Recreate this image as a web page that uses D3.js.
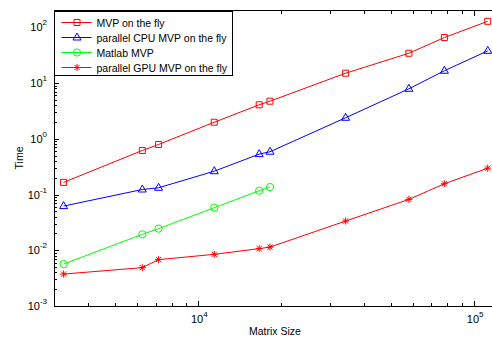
<!DOCTYPE html>
<html>
<head>
<meta charset="utf-8">
<script src="https://cdn.jsdelivr.net/npm/d3@7"></script>
<style>
body { margin: 0; background: #fff; }
svg { display: block; font-family: "Liberation Sans", Arial, sans-serif; }
.series { fill: none; stroke-width: 1; }
.mark { fill: none; stroke-width: 1; }
.frame { fill: none; stroke: #000; stroke-width: 1; shape-rendering: crispEdges; }
.tick { stroke: #000; stroke-width: 1; shape-rendering: crispEdges; }
.label { font-size: 11px; fill: #000; }
.small { font-size: 10.5px; fill: #000; }
</style>
</head>
<body>
<svg width="492" height="338"></svg>
<script>
// matrix sizes (x) and timings (y)
const sizes = [3250, 6270, 7180, 11430, 16630, 18200, 34200, 58000, 78000, 112000]
const mvpFly = [0.165, 0.617, 0.79, 1.98, 4.07, 4.72, 15.0, 34.2, 65.4, 128]
const cpuFly = [0.062, 0.123, 0.132, 0.262, 0.53, 0.585, 2.38, 7.87, 16.6, 37.8]
const matlabMvp = [0.00566, 0.0193, 0.0244, 0.058, 0.117, 0.136]
const gpuFly = [0.00374, 0.00488, 0.00679, 0.00845, 0.0107, 0.0114, 0.0334, 0.0817, 0.156, 0.297]

const seriesNames = ["MVP on the fly", "parallel CPU MVP on the fly", "Matlab MVP", "parallel GPU MVP on the fly"]
const xTickExp = [4, 5]
const yTickExp = [-3, -2, -1, 0, 1, 2]

const svg = d3.select("svg")

//plot box
const boxL = 54, boxR = 496, boxT = 10.5, boxB = 306

//scales
const x = d3.scaleLog()
	.domain([3000, 120000])
	.range([boxL, boxR])

const y = d3.scaleLog()
	.domain([0.001, 200])
	.range([boxB, boxT])

//minor + major ticks
const xMinor = []
for (let e = 3; e <= 5; e++) for (let m = 1; m <= 9; m++) {
	const v = m * Math.pow(10, e)
	if (v >= 3000 && v <= 120000) xMinor.push({v: v, major: m == 1})
}
const yMinor = []
for (let e = -3; e <= 2; e++) for (let m = 1; m <= 9; m++) {
	const v = m * Math.pow(10, e)
	if (v >= 0.001 && v <= 200) yMinor.push({v: v, major: m == 1})
}

const ticks = svg.append("g")

ticks.selectAll("line.xb")
	.data(xMinor)
	.enter()
	.append("line")
	.attr("class", "tick")
	.attr("x1", d => Math.round(x(d.v)) + 0.5)
	.attr("x2", d => Math.round(x(d.v)) + 0.5)
	.attr("y1", boxB)
	.attr("y2", d => boxB - (d.major ? 5 : 3))

ticks.selectAll("line.xt")
	.data(xMinor)
	.enter()
	.append("line")
	.attr("class", "tick")
	.attr("x1", d => Math.round(x(d.v)) + 0.5)
	.attr("x2", d => Math.round(x(d.v)) + 0.5)
	.attr("y1", boxT)
	.attr("y2", d => boxT + (d.major ? 5 : 3))

ticks.selectAll("line.yl")
	.data(yMinor)
	.enter()
	.append("line")
	.attr("class", "tick")
	.attr("y1", d => Math.round(y(d.v)) + 0.5)
	.attr("y2", d => Math.round(y(d.v)) + 0.5)
	.attr("x1", boxL)
	.attr("x2", d => boxL + (d.major ? 5 : 3))

//frame
svg.append("rect")
	.attr("class", "frame")
	.attr("x", boxL + 0.5)
	.attr("y", boxT)
	.attr("width", boxR - boxL)
	.attr("height", boxB - boxT)

//tick labels with superscripts
const xl = svg.selectAll("text.xl")
	.data(xTickExp)
	.enter()
	.append("text")
	.attr("class", "label")
	.attr("x", d => x(Math.pow(10, d)) + 1)
	.attr("y", 322.5)
	.attr("text-anchor", "middle")
xl.append("tspan").text("10")
xl.append("tspan").attr("dy", -6).style("font-size", "8px").text(d => d)

const yl = svg.selectAll("text.yl")
	.data(yTickExp)
	.enter()
	.append("text")
	.attr("class", "label")
	.attr("x", 47)
	.attr("y", d => y(Math.pow(10, d)) + 4)
	.attr("text-anchor", "end")
yl.append("tspan").text("10")
yl.append("tspan").attr("dy", -6).style("font-size", "8px").text(d => d)

//axis titles
svg.append("text")
	.attr("class", "small")
	.attr("x", 275)
	.attr("y", 334.5)
	.attr("text-anchor", "middle")
	.text("Matrix Size")

svg.append("text")
	.attr("class", "small")
	.attr("transform", "translate(23,158) rotate(-90)")
	.attr("text-anchor", "middle")
	.text("Time")

//marker shapes
const markerPath = {
	square: "M-3,-3H3V3H-3Z",
	triangle: "M0,-4.5L4,2.5H-4Z",
	circle: d3.symbol(d3.symbolCircle, 42)(),
	star: "M-3.5,0H3.5M0,-3.5V3.5M-2.6,-2.6L2.6,2.6M-2.6,2.6L2.6,-2.6"
}

const series = [
	{name: seriesNames[0], values: mvpFly, color: "#ff0000", marker: "square"},
	{name: seriesNames[1], values: cpuFly, color: "#0000ff", marker: "triangle"},
	{name: seriesNames[2], values: matlabMvp, color: "#00ff00", marker: "circle"},
	{name: seriesNames[3], values: gpuFly, color: "#ff0000", marker: "star"}
]

const line = d3.line()
	.x(d => x(d[0]))
	.y(d => y(d[1]))

const plot = svg.append("g")

series.forEach(s => {
	const pts = s.values.map((v, i) => [sizes[i], v])
	plot.append("path")
		.datum(pts)
		.attr("class", "series")
		.attr("stroke", s.color)
		.attr("d", line)
	plot.selectAll(null)
		.data(pts)
		.enter()
		.append("path")
		.attr("class", "mark")
		.attr("stroke", s.color)
		.attr("transform", d => `translate(${x(d[0])},${y(d[1])})`)
		.attr("d", markerPath[s.marker])
})

//legend
const legend = svg.append("g")

legend.append("rect")
	.attr("x", 54.5)
	.attr("y", 11.5)
	.attr("width", 178)
	.attr("height", 64)
	.attr("fill", "#fff")
	.attr("stroke", "#000")

const items = legend.selectAll("g.item")
	.data(series)
	.enter()
	.append("g")
	.attr("transform", (d, i) => `translate(0,${22.5 + i * 15})`)

items.append("line")
	.attr("x1", 61.5)
	.attr("x2", 91.5)
	.attr("stroke", d => d.color)

items.append("path")
	.attr("class", "mark")
	.attr("stroke", d => d.color)
	.attr("transform", "translate(77,0)")
	.attr("d", d => markerPath[d.marker])

items.append("text")
	.attr("class", "small")
	.attr("x", 96.5)
	.attr("y", 4)
	.text(d => d.name)
</script>
</body>
</html>
